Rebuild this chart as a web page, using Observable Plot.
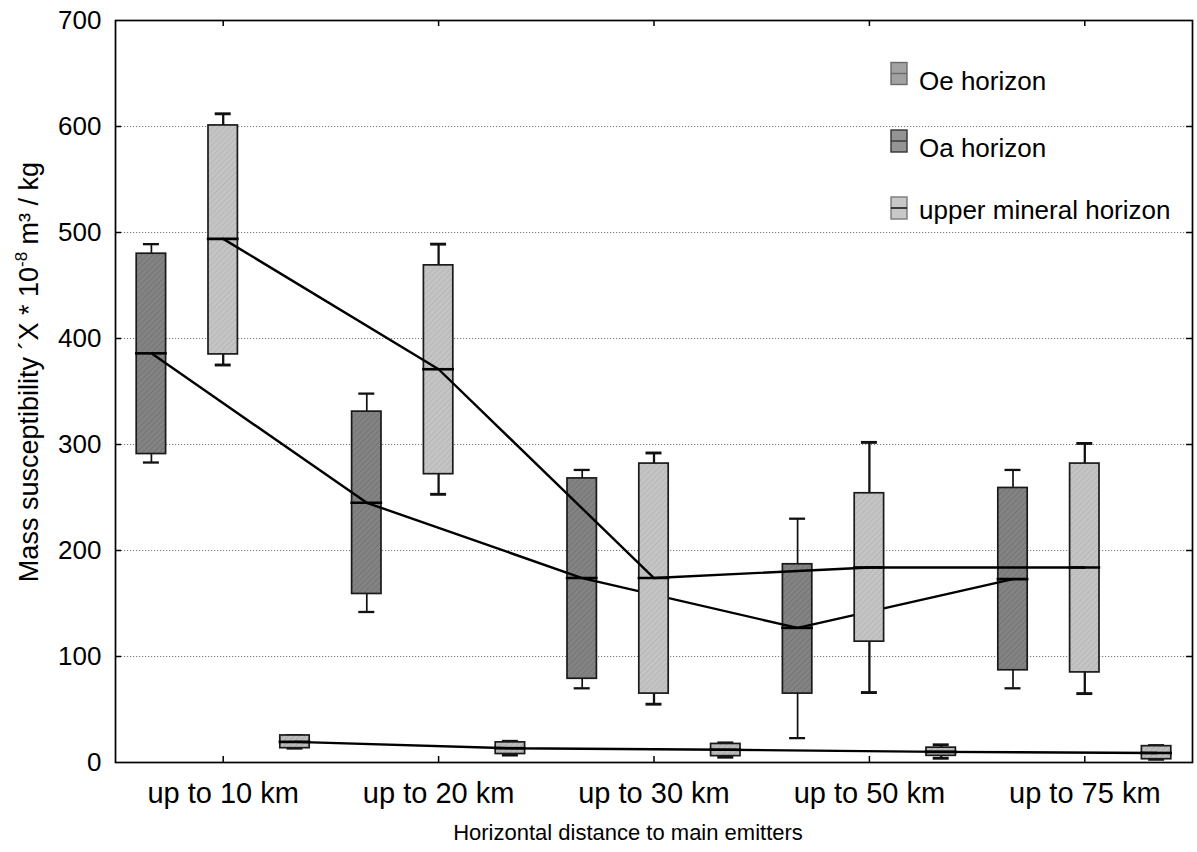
<!DOCTYPE html>
<html>
<head>
<meta charset="utf-8">
<script src="https://cdn.jsdelivr.net/npm/d3@7"></script>
<script src="https://cdn.jsdelivr.net/npm/@observablehq/plot@0.6"></script>
<style>
  body { margin: 0; background: #fff; }
  svg { display: block; }
</style>
</head>
<body>
<div id="chart"></div>
<script>
// ---- data ----
const categories = ["up to 10 km", "up to 20 km", "up to 30 km", "up to 50 km", "up to 75 km"];
const seriesNames = ["Oe horizon", "Oa horizon", "upper mineral horizon"];

// Oe horizon (dark boxes)
const oeLow  = [283, 142, 70, 23, 70];
const oeQ1   = [291, 159, 79, 65, 87];
const oeMed  = [386, 245, 174, 127, 173];
const oeQ3   = [480, 331, 268, 187, 259];
const oeHigh = [489, 348, 276, 230, 276];

// Oa horizon (light boxes)
const oaLow  = [375, 253, 55, 66, 65];
const oaQ1   = [385, 272, 65, 114, 85];
const oaMed  = [494, 371, 174, 184, 184];
const oaQ3   = [601, 469, 282, 254, 282];
const oaHigh = [612, 489, 292, 302, 301];

// upper mineral horizon (small boxes)
const umLow  = [13.5, 7, 5, 4, 3];
const umQ1   = [13.5, 8, 6, 6.3, 3.1];
const umMed  = [19.5, 13.5, 12, 10, 9];
const umQ3   = [25.5, 19, 17.5, 14, 15.4];
const umHigh = [25.5, 20, 18.5, 16.7, 16];

const yTicks = [0, 100, 200, 300, 400, 500, 600, 700];

// ---- layout ----
const W = 1197, H = 852;
const mL = 115, mR = 5, mT = 20, mB = 90;
const plotW = W - mL - mR, plotH = H - mT - mB;
const boxHalf = 14.7 / (plotW / 5);   // half box width in category units
const capHalf = 8 / (plotW / 5);
const offsets = [-1 / 3, 0, 1 / 3];

function rows(low, q1, med, q3, high, k) {
  return categories.map((c, i) => ({
    cat: c, pos: i + offsets[k], low: low[i], q1: q1[i], med: med[i], q3: q3[i], high: high[i]
  }));
}
const oe = rows(oeLow, oeQ1, oeMed, oeQ3, oeHigh, 0);
const oa = rows(oaLow, oaQ1, oaMed, oaQ3, oaHigh, 1);
const um = rows(umLow, umQ1, umMed, umQ3, umHigh, 2);

function boxMarks(data, fill, whiskerWidth) {
  return [
    Plot.ruleX(data, {x: "pos", y1: "low", y2: "high", stroke: "#111", strokeWidth: whiskerWidth}),
    Plot.ruleY(data, {y: "high", x1: d => d.pos - capHalf, x2: d => d.pos + capHalf, stroke: "#111", strokeWidth: whiskerWidth + 0.6}),
    Plot.ruleY(data, {y: "low", x1: d => d.pos - capHalf, x2: d => d.pos + capHalf, stroke: "#111", strokeWidth: whiskerWidth + 0.6}),
    Plot.rect(data, {x1: d => d.pos - boxHalf, x2: d => d.pos + boxHalf, y1: "q1", y2: "q3", fill, stroke: "#1a1a1a", strokeWidth: 1.7}),
    Plot.ruleY(data, {y: "med", x1: d => d.pos - boxHalf * 1.08, x2: d => d.pos + boxHalf * 1.08, stroke: "#000", strokeWidth: 2.6})
  ];
}

const font = "'Liberation Sans', Arial, Helvetica, sans-serif";

const chart = Plot.plot({
  width: W, height: H,
  marginLeft: mL, marginRight: mR, marginTop: mT, marginBottom: mB,
  style: {fontFamily: font, background: "#fff", color: "#000"},
  x: {type: "linear", domain: [-0.5, 4.5]},
  y: {domain: [0, 700]},
  marks: [
    Plot.gridY(yTicks.slice(1, -1), {stroke: "#444", strokeOpacity: 0.9, strokeWidth: 0.8, strokeDasharray: "1.2,1.8"}),
    Plot.axisY(yTicks, {tickSize: 0, tickPadding: 14, fontSize: 26, label: null}),
    Plot.axisX([0, 1, 2, 3, 4], {tickFormat: i => categories[i], tickSize: 0, tickPadding: 20, fontSize: 29, label: null}),
    // inward ticks
    Plot.tickX([0, 1, 2, 3, 4], {x: d => d, insetTop: plotH - 6, stroke: "#000", strokeWidth: 1.5}),
    Plot.tickX([0, 1, 2, 3, 4], {x: d => d, insetBottom: plotH - 6, stroke: "#000", strokeWidth: 1.5}),
    Plot.tickY(yTicks.slice(1, -1), {y: d => d, insetLeft: plotW - 6, stroke: "#000", strokeWidth: 1.5}),
    Plot.tickY(yTicks.slice(1, -1), {y: d => d, insetRight: plotW - 6, stroke: "#000", strokeWidth: 1.5}),
    // Oe horizon
    ...boxMarks(oe, "url(#hatchDark)", 1.7),
    Plot.line(oe, {x: "pos", y: "med", stroke: "#000", strokeWidth: 2.4}),
    // Oa horizon
    ...boxMarks(oa, "url(#hatchLight)", 2.3),
    Plot.line(oa, {x: "pos", y: "med", stroke: "#000", strokeWidth: 2.4}),
    // upper mineral horizon
    ...boxMarks(um, "url(#hatchSmall)", 2.3),
    Plot.line(um, {x: "pos", y: "med", stroke: "#000", strokeWidth: 2.4}),
    Plot.frame({stroke: "#000", strokeWidth: 1.7})
  ]
});

document.getElementById("chart").appendChild(chart);

// ---- patterns, titles, legend ----
const svg = d3.select(chart);
const defs = svg.insert("defs", ":first-child");
function hatch(id, base, line) {
  const p = defs.append("pattern").attr("id", id).attr("patternUnits", "userSpaceOnUse")
    .attr("width", 4).attr("height", 4).attr("patternTransform", "rotate(45)");
  p.append("rect").attr("width", 4).attr("height", 4).attr("fill", base);
  p.append("line").attr("x1", 0).attr("y1", 0).attr("x2", 0).attr("y2", 4)
    .attr("stroke", line).attr("stroke-width", 1.4);
}
hatch("hatchDark", "#838383", "#6f6f6f");
hatch("hatchLight", "#c4c4c4", "#b2b2b2");
hatch("hatchSmall", "#bcbcbc", "#a4a4a4");

// y axis title
const yt = svg.append("text")
  .attr("transform", `translate(38, 372) rotate(-90)`)
  .attr("text-anchor", "middle")
  .attr("font-family", font).attr("font-size", 27).attr("fill", "#000");
yt.append("tspan").text("Mass susceptibility \u00B4X * 10");
yt.append("tspan").attr("font-size", 17).attr("dy", -11).text("-8");
yt.append("tspan").attr("dy", 11).text(" m\u00B3 / kg");

// x axis title
svg.append("text")
  .attr("x", 628).attr("y", 840)
  .attr("text-anchor", "middle")
  .attr("font-family", font).attr("font-size", 22).attr("fill", "#000")
  .text("Horizontal distance to main emitters");

// legend
const legendItems = [
  {name: seriesNames[0], fill: "#a2a2a2", stroke: "#6a6a6a", mid: "#6a6a6a", cy: 73.5, base: 90},
  {name: seriesNames[1], fill: "#949494", stroke: "#333", mid: "#333", cy: 141, base: 157},
  {name: seriesNames[2], fill: "#c8c8c8", stroke: "#7a7a7a", mid: "#000", cy: 208, base: 219}
];
const lg = svg.append("g").attr("text-anchor", "start");
legendItems.forEach(it => {
  lg.append("rect").attr("x", 891).attr("y", it.cy - 11).attr("width", 16).attr("height", 22)
    .attr("fill", it.fill).attr("stroke", it.stroke).attr("stroke-width", 1.4);
  lg.append("line").attr("x1", 891).attr("x2", 907).attr("y1", it.cy).attr("y2", it.cy)
    .attr("stroke", it.mid).attr("stroke-width", 1.4);
  lg.append("text").attr("x", 919).attr("y", it.base).attr("text-anchor", "start")
    .attr("font-family", font).attr("font-size", 26).attr("fill", "#000").text(it.name);
});
</script>
</body>
</html>
